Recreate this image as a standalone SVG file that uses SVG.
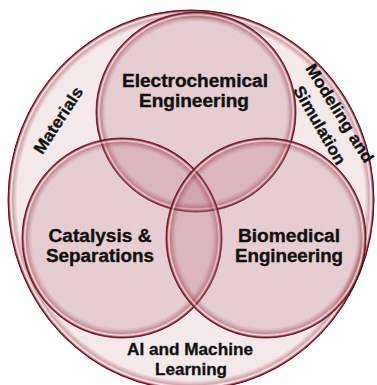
<svg xmlns="http://www.w3.org/2000/svg" width="377" height="385" viewBox="0 0 377 385">
<defs>
<radialGradient id="gBig" cx="50%" cy="50%" r="50%">
<stop offset="0" stop-color="#f3e8ea"/>
<stop offset="0.95" stop-color="#f3e8ea"/>
<stop offset="0.974" stop-color="#d4a4ab"/>
<stop offset="0.985" stop-color="#f8f0f1"/>
<stop offset="0.994" stop-color="#a84a58"/>
<stop offset="1" stop-color="#5c0f1c"/>
</radialGradient>
<radialGradient id="gC" cx="50%" cy="50%" r="50%">
<stop offset="0" stop-color="#b36a76" stop-opacity="0.21"/>
<stop offset="0.9" stop-color="#b36a76" stop-opacity="0.22"/>
<stop offset="0.955" stop-color="#962f41" stop-opacity="0.5"/>
<stop offset="0.972" stop-color="#f4e2e5" stop-opacity="0.6"/>
<stop offset="0.988" stop-color="#8e2636" stop-opacity="0.85"/>
<stop offset="1" stop-color="#5a0d1a" stop-opacity="1"/>
</radialGradient>
</defs>
<style>
.big{fill:url(#gBig);stroke:#5c0f1c;stroke-width:1}
.c{fill:url(#gC);stroke:#5a0d1a;stroke-width:0.8}
.t{font-family:"Liberation Sans",Arial,sans-serif;font-weight:bold;font-size:17.5px;fill:#111;stroke:#111;stroke-width:0.35;text-anchor:middle}
.o{font-family:"Liberation Sans",Arial,sans-serif;font-weight:bold;font-size:16.5px;fill:#111;stroke:#111;stroke-width:0.3;text-anchor:middle}
</style>
<g id="outer">
<ellipse class="big" cx="191" cy="200" rx="183" ry="190"/>
</g>
<g id="electrochemical">
<circle class="c" cx="196" cy="112" r="100"/>
</g>
<g id="catalysis">
<circle class="c" cx="122" cy="238" r="100"/>
</g>
<g id="biomedical">
<circle class="c" cx="266" cy="238" r="100"/>
</g>
<g id="connectors"/>
<g id="labels">
<text class="t" x="195" y="87" textLength="146" lengthAdjust="spacingAndGlyphs">Electrochemical</text>
<text class="t" x="194" y="107" textLength="110" lengthAdjust="spacingAndGlyphs">Engineering</text>
<text class="t" x="100" y="242" textLength="103" lengthAdjust="spacingAndGlyphs">Catalysis &amp;</text>
<text class="t" x="100" y="262" textLength="108" lengthAdjust="spacingAndGlyphs">Separations</text>
<text class="t" x="289" y="242" textLength="102" lengthAdjust="spacingAndGlyphs">Biomedical</text>
<text class="t" x="289" y="262" textLength="108" lengthAdjust="spacingAndGlyphs">Engineering</text>
<text class="o" x="190" y="355" textLength="126" lengthAdjust="spacingAndGlyphs">AI and Machine</text>
<text class="o" x="191" y="375" textLength="72" lengthAdjust="spacingAndGlyphs">Learning</text>
<text class="o" transform="translate(58,120) rotate(-57)" x="0" y="6" textLength="76" lengthAdjust="spacingAndGlyphs">Materials</text>
<text class="o" transform="translate(340,113) rotate(58)" x="0" y="6" textLength="113" lengthAdjust="spacingAndGlyphs">Modeling and</text>
<text class="o" transform="translate(320,125) rotate(60)" x="0" y="6" textLength="88" lengthAdjust="spacingAndGlyphs">Simulation</text>
</g>
</svg>
